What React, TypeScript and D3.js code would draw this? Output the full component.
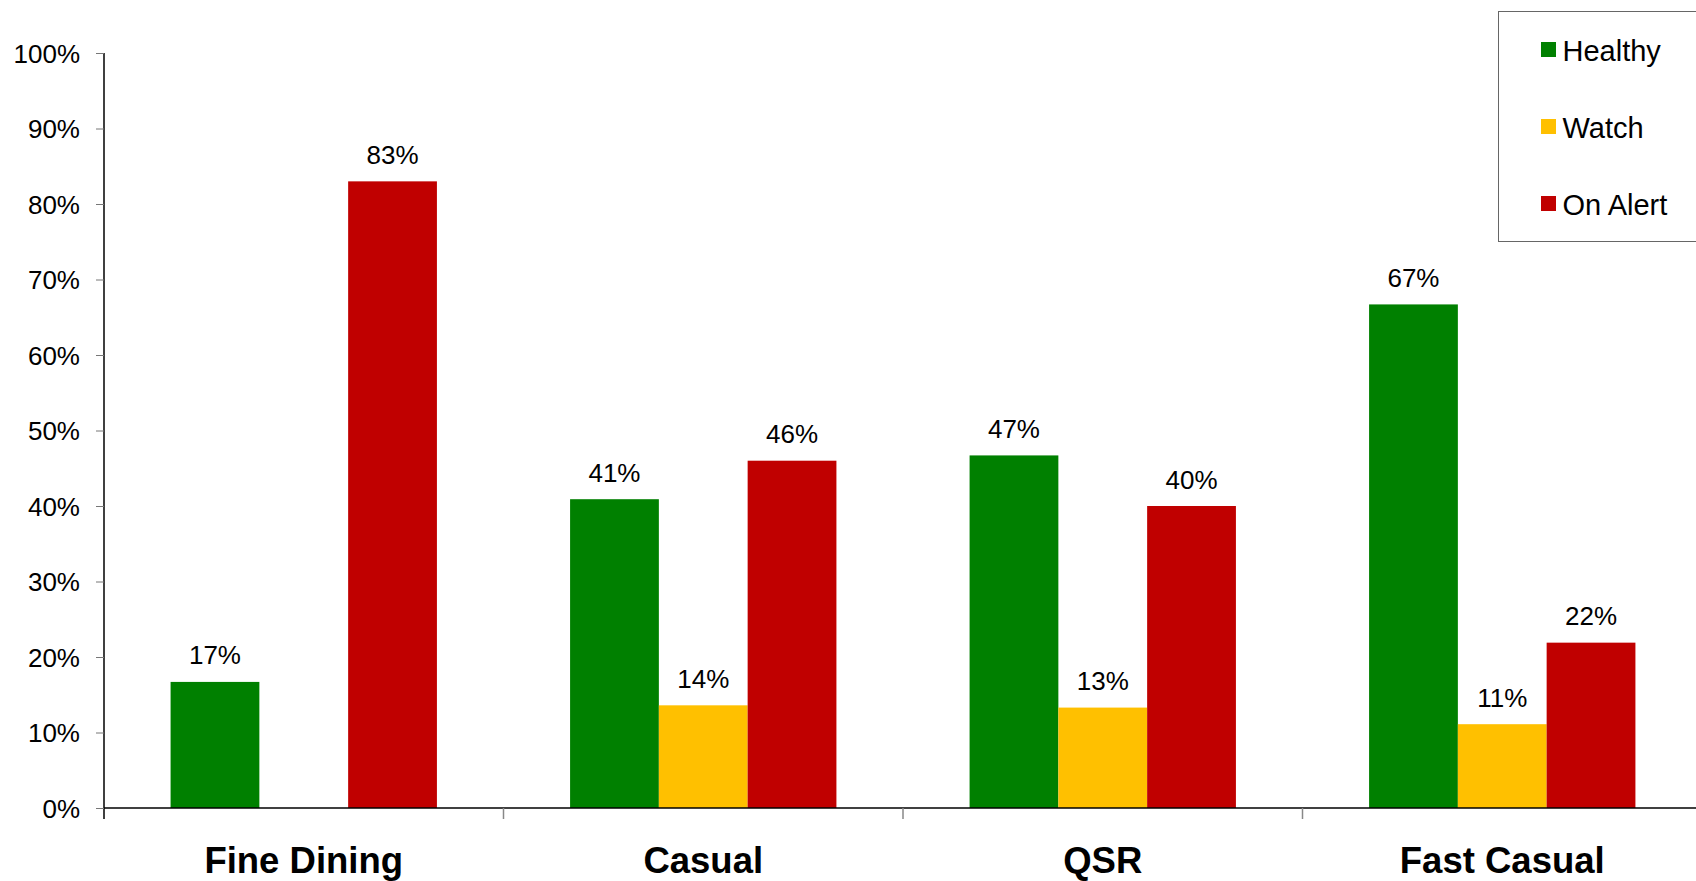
import * as d3 from 'd3';
import React, { useEffect, useRef } from 'react';

const width = 1696;
const height = 881;
const margin = { top: 53, left: 104, bottom: 808 };
const bandWidth = 399.5;
const font = 'Liberation Sans, Arial, sans-serif';

const categories = ['Fine Dining', 'Casual', 'QSR', 'Fast Casual'];
const seriesNames = ['Healthy', 'Watch', 'On Alert'];
const colors = ['#008000', '#FFC000', '#C00000'];

// values per series, in category order (null = no bar)
const healthy = [0.167, 0.409, 0.467, 0.667];
const watch = [null, 0.136, 0.133, 0.111];
const onAlert = [0.83, 0.46, 0.40, 0.219];

const yTicks = [0, 0.1, 0.2, 0.3, 0.4, 0.5, 0.6, 0.7, 0.8, 0.9, 1];

const App = () => {
  const yAxisRef = useRef<SVGGElement>(null);

  const xScale = d3.scaleBand()
    .domain(categories)
    .range([margin.left, margin.left + bandWidth * categories.length])
    .padding(0);
  const xInner = d3.scaleBand()
    .domain(seriesNames)
    .range([0, xScale.bandwidth()])
    .paddingInner(0)
    .paddingOuter(0.75);
  const yScale = d3.scaleLinear().domain([0, 1]).range([margin.bottom, margin.top]);

  const series = [healthy, watch, onAlert];
  const fmt = d3.format('.0%');

  useEffect(() => {
    const yAxis = d3.axisLeft(yScale)
      .tickValues(yTicks)
      .tickFormat((d) => fmt(d as number))
      .tickSize(8)
      .tickPadding(16);
    const g = d3.select(yAxisRef.current);
    g.call(yAxis as any);
    g.select('.domain').remove();
    g.selectAll('line').attr('stroke', '#777');
    g.selectAll('text')
      .attr('font-family', font)
      .attr('font-size', 26)
      .attr('fill', '#000')
      .attr('dy', '0.35em');
  }, []);

  return (
    <svg width={width} height={height} style={{ position: 'fixed', left: 0, top: 0, background: '#fff' }}>
      {series.map((vals, si) =>
        vals.map((v, ci) => {
          if (v == null) return null;
          const x = (xScale(categories[ci]) as number) + (xInner(seriesNames[si]) as number);
          const w = xInner.bandwidth();
          return (
            <g key={`${si}-${ci}`}>
              <rect x={x} y={yScale(v)} width={w} height={yScale(0) - yScale(v)} fill={colors[si]} />
              <text x={x + w / 2} y={yScale(v) - 17.5} textAnchor="middle"
                fontFamily={font} fontSize={26} fill="#000">{fmt(v)}</text>
            </g>
          );
        })
      )}

      {/* axes */}
      <line x1={margin.left} x2={width} y1={margin.bottom} y2={margin.bottom} stroke="#000" strokeWidth={1.5} />
      <line x1={margin.left} x2={margin.left} y1={margin.top} y2={margin.bottom + 11} stroke="#000" strokeWidth={1.5} />
      {categories.map((c, i) => i === 0 ? null : (
        <line key={c} x1={xScale(c)} x2={xScale(c)} y1={margin.bottom} y2={margin.bottom + 11} stroke="#888" strokeWidth={1.5} />
      ))}
      <g ref={yAxisRef} transform={`translate(${margin.left}, 0)`} />

      {categories.map((c) => (
        <text key={c} x={(xScale(c) as number) + xScale.bandwidth() / 2} y={873}
          textAnchor="middle" fontFamily={font} fontWeight="bold" fontSize={36.5} fill="#000">{c}</text>
      ))}

      {/* legend */}
      <rect x={1498.5} y={11.5} width={220} height={230} fill="#fff" stroke="#666" strokeWidth={1} />
      {seriesNames.map((s, i) => (
        <g key={s} transform={`translate(1541, ${42 + i * 77})`}>
          <rect width={15} height={15} fill={colors[i]} />
          <text x={21.5} y={18.5} fontFamily={font} fontSize={29} fill="#000">{s}</text>
        </g>
      ))}
    </svg>
  );
};

export default App;
